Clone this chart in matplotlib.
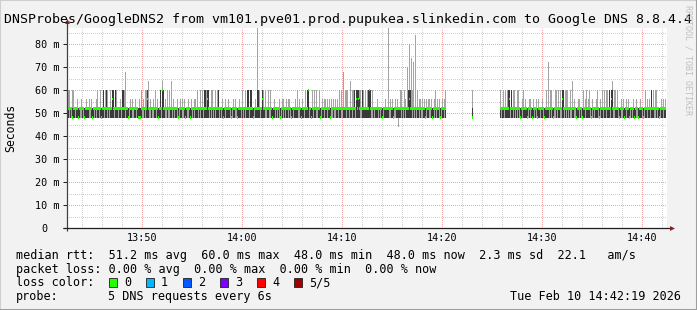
import datetime as dt
import numpy as np
import matplotlib
matplotlib.use("Agg")
import matplotlib.pyplot as plt
import matplotlib.dates as mdates
from matplotlib.patches import Rectangle
from matplotlib.lines import Line2D
from matplotlib.ticker import MultipleLocator, FuncFormatter

# ---------------- data ----------------
title = "DNSProbes/GoogleDNS2 from vm101.pve01.prod.pupukea.slinkedin.com to Google DNS 8.8.4.4"
start = dt.datetime(2026, 2, 10, 13, 42, 30)
step_seconds = 6
window_minutes = 60

# sorted ping profiles (ms): min, 2nd, median, 4th, max
profiles = {
    "a": (48, 48, 52, 52, 52),
    "b": (48, 48, 52, 52, 56),
    "c": (48, 48, 52, 52, 60),
    "d": (48, 48, 48, 52, 52),
    "e": (48, 48, 48, 52, 56),
    "f": (48, 48, 48, 52, 60),
    "g": (48, 52, 52, 52, 52),
    "h": (48, 52, 52, 52, 56),
    "i": (48, 52, 52, 52, 60),
    "j": (48, 48, 52, 60, 60),
    "k": (48, 48, 52, 56, 60),
    "l": (48, 48, 56, 60, 60),
    "m": (48, 48, 60, 60, 60),
    "n": (44, 48, 52, 52, 52),
}

# one character per 6 s sample, 20 samples (2 minutes) per block, ' ' = no data
sample_blocks = [
    "aciagfcagabdaghagdab",  # 13:42:30
    "aahgbdagahcagcdajgcj",
    "iagcaljgjcagabgjjcga",
    "adgbahgabgadedcghaic",
    "lcghaghacgbdajgmjahg",
    "cgiacgbgaahdgbahgbda",
    "ghadbgahbacgaiacgjjc",
    "ljgaicgaiacjgagbdaha",
    "abagdgbahgdabagcgaia",
    "jjgjjadgbajjcgalcaig",
    "acgiadabgagahdgbhagb",
    "ahbgdagabacghadbagca",
    "jmgadcgcaigacdgbahba",
    "habdhgbghabgcaigcaci",
    "cagcaicjgljlkigjcaca",
    "cjmjgiagaabgagadgaba",
    "acghabdghabnaciagcha",
    "cjljcicgcgcahbghabdh",
    "abhgbdahcgbahdgbahc ",
    "                    ",
    "     f              ",
    "             cgacgca",
    "cjlgjaicgaicgdahcaba",
    "dgbhadbgahdbagabgdac",
    "acgciadgicgcaigljgci",
    "cgaigcahgdabhagdcahc",
    "abcgdhagabcgdhacgcai",
    "cajgljgicacgdahgbdah",
    "abdgagbdahgdabagdgca",
    "habgjacgicgadgbahab ",
]

# sample index -> slowest ping (ms) for the tall smoke spikes
spikes = {58: 68, 81: 64, 95: 64, 104: 64, 190: 95, 276: 68, 283: 64,
          321: 95, 340: 70, 342: 80, 344: 74, 346: 72, 348: 84,
          481: 72, 505: 64, 545: 64}

median_stats = ["51.2 ms avg", "60.0 ms max", "48.0 ms min", "48.0 ms now", "2.3 ms sd", "22.1   am/s"]
loss_stats = ["0.00 % avg", "0.00 % max", "0.00 % min", "0.00 % now"]
loss_labels = ["0", "1", "2", "3", "4", "5/5"]
loss_colors = ["#26ff00", "#00b8ff", "#0059ff", "#7e00ff", "#ff0000", "#a00000"]
probe_text = "5 DNS requests every 6s"
stamp_text = "Tue Feb 10 14:42:19 2026"

# ---------------- decode ----------------
codes = "".join(sample_blocks)
pings = np.full((5, len(codes)), np.nan)
for i, c in enumerate(codes):
    if c != " ":
        pings[:, i] = profiles[c]
for i, v in spikes.items():
    pings[4, i] = v

times = [start + dt.timedelta(seconds=step_seconds * i) for i in range(len(codes))]
xnum = mdates.date2num(times)
valid = ~np.isnan(pings[2])
bw = step_seconds / 86400.0

# ---------------- figure ----------------
W, H, DPI = 697, 310, 100
fig = plt.figure(figsize=(W / DPI, H / DPI), dpi=DPI, facecolor="#f2f2f2")
L, R, T, B = 67, 667, 28, 228
ax = fig.add_axes([L / W, 1 - B / H, (R - L) / W, (B - T) / H])
ax.set_facecolor("white")
mono = "DejaVu Sans Mono"

xv = xnum[valid]
p = pings[:, valid]
ax.bar(xv, p[4] - p[0], bottom=p[0], width=bw, align="edge", color="#a4a4a4",
       linewidth=0, antialiased=False, zorder=2)
ax.bar(xv, p[3] - p[1], bottom=p[1], width=bw, align="edge", color="#3a3a3a",
       linewidth=0, antialiased=False, zorder=3)
ax.bar(xv, np.full(len(xv), 1.1), bottom=p[2] - 0.55, width=bw, align="edge",
       color=loss_colors[0], linewidth=0, antialiased=False, zorder=4)

end = start + dt.timedelta(minutes=window_minutes)
ax.set_xlim(mdates.date2num(start), mdates.date2num(end))
ax.set_ylim(0, (B - T) / 2.3)

ax.xaxis.set_major_locator(mdates.MinuteLocator(byminute=range(0, 60, 10)))
ax.xaxis.set_minor_locator(mdates.MinuteLocator(byminute=range(0, 60, 2)))
ax.xaxis.set_major_formatter(mdates.DateFormatter("%H:%M"))
ax.yaxis.set_major_locator(MultipleLocator(10))
ax.yaxis.set_minor_locator(MultipleLocator(5))
ax.yaxis.set_major_formatter(FuncFormatter(lambda v, _: "0  " if v == 0 else f"{v:.0f} m"))

ax.set_axisbelow(True)
ax.grid(which="major", color="#f2a6a6", linestyle=(0.5, (1, 1)), linewidth=0.72)
ax.grid(which="minor", color="#cdcdcd", linestyle=(0.5, (1, 1)), linewidth=0.72)
for s in ax.spines.values():
    s.set_visible(False)

ax.tick_params(axis="y", which="major", length=2.9, width=0.72, color="#1f1f1f", pad=2.2,
               labelsize=7.3)
ax.tick_params(axis="x", which="major", length=0, pad=3.6, labelsize=7.3)
ax.tick_params(which="minor", length=0)
for lab in ax.get_xticklabels() + ax.get_yticklabels():
    lab.set_fontfamily(mono)

# axes with arrows
ax.plot([0, 0], [-0.015, 1.03], transform=ax.transAxes, color="#404040", lw=0.9,
        clip_on=False, zorder=6, solid_capstyle="butt")
ax.plot([-0.007, 1.006], [0, 0], transform=ax.transAxes, color="#1f1f1f", lw=0.9,
        clip_on=False, zorder=6, solid_capstyle="butt")
ax.plot([0], [1.035], marker="^", ms=3.5, color="#801f1f", transform=ax.transAxes,
        clip_on=False, zorder=7, markeredgewidth=0)
ax.plot([1.008], [0], marker=">", ms=3.5, color="#801f1f", transform=ax.transAxes,
        clip_on=False, zorder=7, markeredgewidth=0)

def fx(px):
    return px / W

def fy(py):
    return 1 - py / H

fig.text(fx(348), fy(23.5), title, ha="center", va="baseline", family=mono, size=9.5)
fig.text(fx(11), fy(128), "Seconds", rotation=90, ha="center", va="center", family=mono, size=8.3)
fig.text(fx(688), fy(5), "RRDTOOL / TOBI OETIKER", rotation=270, ha="center", va="top",
         family=mono, size=6, color="#c0c0c0")

LS = 8.5
fig.text(fx(16), fy(259), "median rtt:  " + "  ".join(median_stats), family=mono, size=LS, va="baseline")
fig.text(fx(16), fy(272.5), "packet loss: " + "  ".join(loss_stats), family=mono, size=LS, va="baseline")
fig.text(fx(16), fy(286.5), "loss color:", family=mono, size=LS, va="baseline")
for k, (lab, col) in enumerate(zip(loss_labels, loss_colors)):
    x0 = 109 + 37 * k
    fig.patches.append(Rectangle((fx(x0), fy(287)), 8 / W, 9 / H, transform=fig.transFigure,
                                 facecolor=col, edgecolor="#1f1f1f", linewidth=0.6))
    fig.text(fx(x0 + 15), fy(286.5), lab, family=mono, size=LS, va="baseline")
fig.text(fx(16), fy(300), "probe:", family=mono, size=LS, va="baseline")
fig.text(fx(108), fy(300), probe_text, family=mono, size=LS, va="baseline")
fig.text(fx(681), fy(300), stamp_text, family=mono, size=LS, va="baseline", ha="right")

# 3d frame
fig.add_artist(Line2D([0, 0], [0, 1], transform=fig.transFigure, color="#cfcfcf", lw=1.5))
fig.add_artist(Line2D([0, 1], [1, 1], transform=fig.transFigure, color="#cfcfcf", lw=1.5))
fig.add_artist(Line2D([1, 1], [0, 1], transform=fig.transFigure, color="#9e9e9e", lw=2.2))
fig.add_artist(Line2D([0, 1], [0, 0], transform=fig.transFigure, color="#9e9e9e", lw=2.2))

fig.savefig("out.png", dpi=DPI, facecolor=fig.get_facecolor())
